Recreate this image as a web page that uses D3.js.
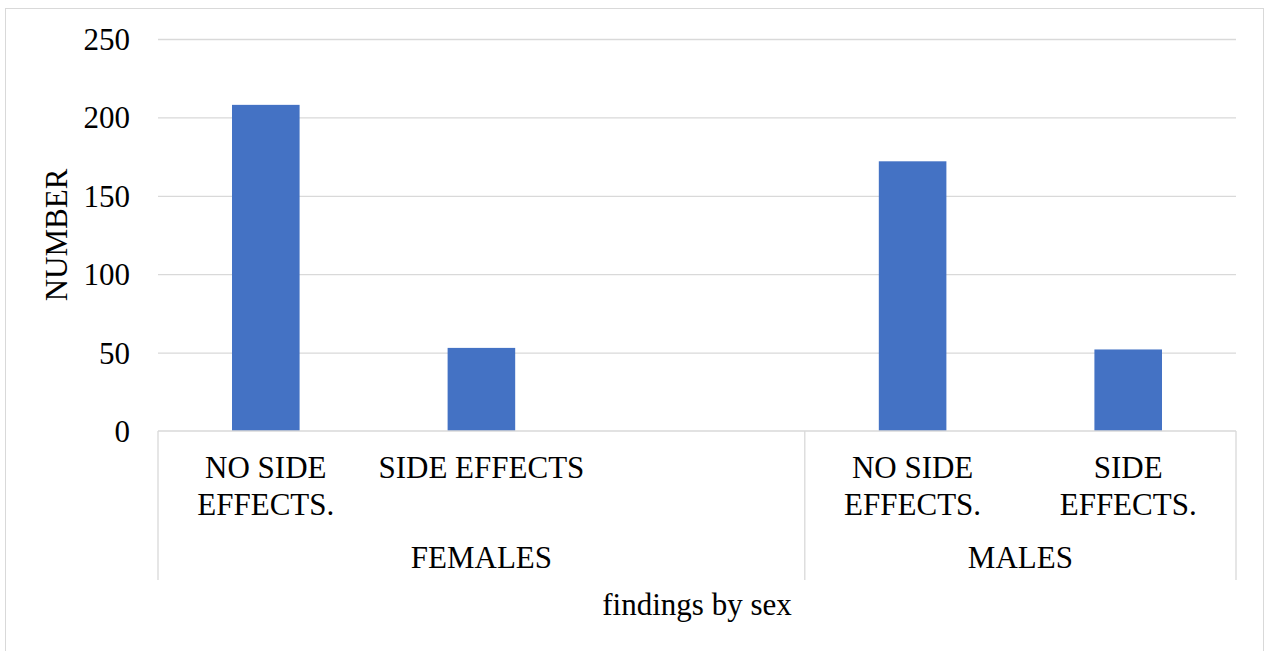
<!DOCTYPE html>
<html>
<head>
<meta charset="utf-8">
<script src="https://cdn.jsdelivr.net/npm/d3@7"></script>
<style>
  html, body { margin: 0; padding: 0; background: #fff; }
  svg { display: block; }
  text { font-family: "Liberation Serif", "Times New Roman", serif; fill: #000; }
</style>
</head>
<body>
<svg id="chart" width="1266" height="651"></svg>
<script>
// ---- data ----
const slots = ["F1", "F2", "F3", "M1", "M2"];
const categoryLabels = [["NO SIDE", "EFFECTS."], ["SIDE EFFECTS"], [], ["NO SIDE", "EFFECTS."], ["SIDE", "EFFECTS."]];
const groups = ["FEMALES", "MALES"];
const slotGroup = ["FEMALES", "FEMALES", "FEMALES", "MALES", "MALES"];
const values = [208, 53, null, 172, 52];
const yTicks = [0, 50, 100, 150, 200, 250];
const yTitle = "NUMBER";
const xTitle = "findings by sex";

// ---- layout ----
const svg = d3.select("#chart");
const W = 1266, H = 651;
const plot = { left: 158, right: 1236, top: 39, bottom: 431 };
const fontSize = 31;
const grid = "#d9d9d9";

// chart border
svg.append("rect")
  .attr("x", 5.5).attr("y", 8.5)
  .attr("width", 1258).attr("height", 660)
  .attr("fill", "#fff").attr("stroke", grid).attr("stroke-width", 1);

const x = d3.scaleBand().domain(slots).range([plot.left, plot.right]).paddingInner(0).paddingOuter(0);
const y = d3.scaleLinear().domain([0, 250]).range([plot.bottom, plot.top]);

// gridlines
const gridAxis = d3.axisLeft(y).tickValues(yTicks.filter(t => t > 0)).tickSize(-(plot.right - plot.left)).tickFormat("");
const gg = svg.append("g").attr("transform", `translate(${plot.left},0)`).call(gridAxis);
gg.select(".domain").remove();
gg.selectAll("line").attr("stroke", grid).attr("stroke-width", 1.3);

// y tick labels
const yAxis = d3.axisLeft(y).tickValues(yTicks).tickSize(0).tickPadding(0).tickFormat(d3.format("d"));
const ya = svg.append("g").attr("transform", `translate(130,0)`).call(yAxis);
ya.select(".domain").remove();
ya.selectAll("text")
  .attr("font-size", fontSize)
  .attr("font-family", "Liberation Serif, serif")
  .attr("fill", "#000")
  .attr("dy", "0.34em");

// bars
const barW = x.bandwidth() / 3.19;
svg.append("g").selectAll("rect")
  .data(slots.map((s, i) => ({ s, v: values[i] })).filter(d => d.v != null))
  .join("rect")
  .attr("x", d => x(d.s) + x.bandwidth() / 2 - barW / 2)
  .attr("y", d => y(d.v))
  .attr("width", barW)
  .attr("height", d => y(0) - y(d.v))
  .attr("fill", "#4472c4");

// category axis: baseline and separators
const axisBottom = 580;
svg.append("line")
  .attr("x1", plot.left).attr("x2", plot.right)
  .attr("y1", plot.bottom).attr("y2", plot.bottom)
  .attr("stroke", grid).attr("stroke-width", 1.3);

const groupExtents = groups.map(g => {
  const idx = slotGroup.map((sg, i) => sg === g ? i : -1).filter(i => i >= 0);
  const x0 = x(slots[idx[0]]);
  const x1 = x(slots[idx[idx.length - 1]]) + x.bandwidth();
  return { g, x0, x1 };
});
const seps = [plot.left, ...groupExtents.map(e => e.x1)];
svg.append("g").selectAll("line").data(seps).join("line")
  .attr("x1", d => d).attr("x2", d => d)
  .attr("y1", plot.bottom).attr("y2", axisBottom)
  .attr("stroke", grid).attr("stroke-width", 1.3);

// inner category labels
const lab = svg.append("g");
slots.forEach((s, i) => {
  const cx = x(s) + x.bandwidth() / 2;
  categoryLabels[i].forEach((line, j) => {
    lab.append("text")
      .attr("x", cx).attr("y", 478 + j * 37)
      .attr("text-anchor", "middle")
      .attr("font-size", fontSize)
      .text(line);
  });
});

// group labels
svg.append("g").selectAll("text").data(groupExtents).join("text")
  .attr("x", d => (d.x0 + d.x1) / 2).attr("y", 568)
  .attr("text-anchor", "middle")
  .attr("font-size", fontSize)
  .text(d => d.g);

// axis titles
svg.append("text")
  .attr("x", (plot.left + plot.right) / 2).attr("y", 615)
  .attr("text-anchor", "middle")
  .attr("font-size", fontSize)
  .text(xTitle);

svg.append("text")
  .attr("transform", `translate(67,${(plot.top + plot.bottom) / 2}) rotate(-90)`)
  .attr("text-anchor", "middle")
  .attr("font-size", fontSize)
  .text(yTitle);
</script>
</body>
</html>
